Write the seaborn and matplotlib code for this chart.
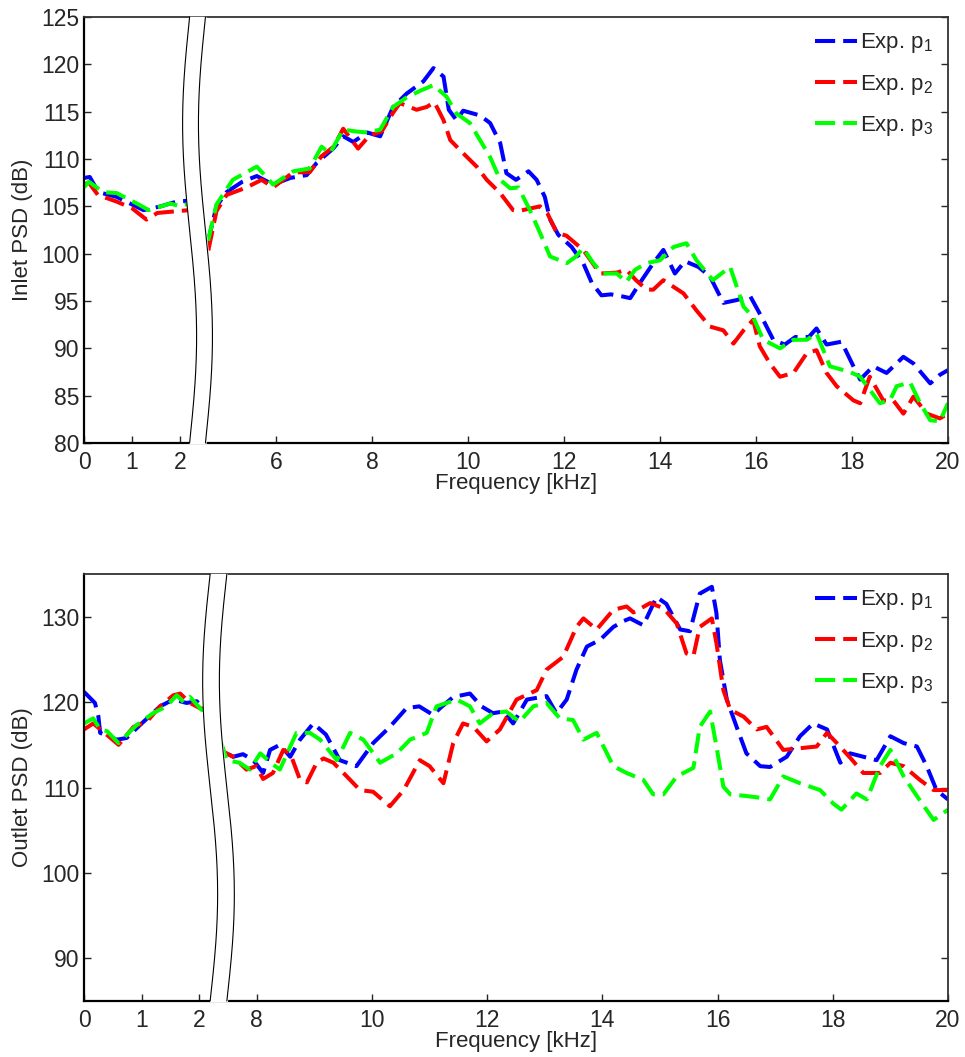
import numpy as np
import pandas as pd
import matplotlib
matplotlib.use("Agg")
import matplotlib.pyplot as plt
import seaborn as sns

# ---- data (frequency in kHz, PSD in dB) ----
inlet_f_p1 = [0, 0.12, 0.3, 0.68, 1.24, 1.6, 1.93, 2.2,
              4.56, 4.76, 4.97, 5.3, 5.6, 5.94, 6.3, 6.64, 6.85, 7.19, 7.4, 7.61, 7.9, 8.17, 8.44,
              8.72, 9.07, 9.28, 9.49, 9.6, 9.76, 9.9, 10.25, 10.46, 10.67, 10.8, 11.0, 11.26, 11.43,
              11.6, 11.71, 11.88, 12.16, 12.4, 12.58, 12.78, 12.98, 13.2, 13.38, 13.58, 13.86, 14.07,
              14.31, 14.52, 14.8, 15.04, 15.32, 15.6, 15.88, 16.15, 16.36, 16.6, 16.82, 17.1, 17.26,
              17.47, 17.78, 18.03, 18.17, 18.44, 18.72, 19.07, 19.28, 19.63, 19.83, 20]
inlet_db_p1 = [108.0, 108.1, 106.5, 106.0, 104.6, 105.0, 105.5, 105.6,
               100.8, 105.0, 106.5, 107.6, 108.2, 107.3, 108.0, 108.3, 109.6, 111.1, 112.4, 111.8,
               112.8, 112.4, 115.5, 116.9, 118.2, 119.6, 118.7, 115.2, 114.1, 115.1, 114.6, 113.8,
               111.7, 108.5, 107.8, 108.7, 107.8, 106.0, 103.6, 102.0, 100.7, 99.0, 96.9, 95.6, 95.7,
               95.5, 95.3, 96.9, 99.0, 100.4, 97.9, 99.2, 98.6, 97.6, 94.8, 95.1, 95.5, 93.0, 90.9,
               90.4, 91.2, 91.2, 92.1, 90.4, 90.7, 88.1, 86.7, 88.1, 87.4, 89.1, 88.4, 86.3, 87.2, 87.7]

inlet_f_p2 = [0, 0.1, 0.29, 0.68, 1.0, 1.3, 1.53, 1.96, 2.2,
              4.58, 4.76, 4.97, 5.39, 5.7, 5.94, 6.36, 6.7, 6.95, 7.2, 7.4, 7.71, 7.95, 8.2, 8.44,
              8.58, 8.93, 9.14, 9.3, 9.49, 9.63, 9.9, 10.18, 10.39, 10.67, 10.94, 11.05, 11.5, 11.65,
              11.85, 12.05, 12.4, 12.75, 13.1, 13.3, 13.5, 13.72, 13.86, 14.07, 14.28, 14.49, 14.76,
              15.04, 15.32, 15.53, 15.74, 15.94, 16.08, 16.29, 16.5, 16.78, 17.06, 17.26, 17.47,
              17.68, 18.03, 18.17, 18.37, 18.65, 18.86, 19.07, 19.28, 19.56, 19.83, 20]
inlet_db_p2 = [107.3, 107.5, 106.2, 105.5, 104.8, 103.6, 104.3, 104.5, 104.6,
               100.1, 104.5, 106.2, 107.0, 107.8, 107.0, 108.6, 108.6, 110.3, 111.3, 113.2, 111.1,
               112.5, 112.9, 114.9, 115.9, 115.2, 115.5, 116.0, 114.1, 112.0, 110.6, 109.2, 107.8,
               106.4, 104.6, 104.5, 105.0, 104.3, 102.2, 101.9, 100.4, 97.9, 98.0, 98.3, 97.2, 96.2,
               96.2, 97.2, 96.5, 95.8, 94.0, 92.3, 91.9, 90.5, 91.9, 93.0, 90.2, 88.4, 87.0, 87.4,
               89.5, 89.8, 87.4, 86.0, 84.5, 84.2, 87.0, 84.5, 84.5, 83.1, 84.9, 83.1, 82.6, 83.1]

inlet_f_p3 = [0, 0.1, 0.4, 0.68, 1.1, 1.35, 1.8, 2.0, 2.2,
              4.56, 4.76, 5.1, 5.6, 5.94, 6.36, 6.7, 6.95, 7.12, 7.4, 7.68, 7.9, 8.17, 8.44, 8.72,
              9.0, 9.28, 9.55, 9.76, 10.04, 10.25, 10.46, 10.67, 10.88, 11.05, 11.29, 11.5, 11.71,
              12.06, 12.25, 12.4, 12.61, 12.8, 13.1, 13.3, 13.48, 13.72, 14.0, 14.28, 14.55, 14.76,
              15.1, 15.46, 15.74, 15.94, 16.15, 16.5, 16.78, 17.06, 17.26, 17.54, 17.96, 18.17,
              18.58, 18.79, 18.93, 19.21, 19.42, 19.63, 19.83, 20]
inlet_db_p3 = [107.0, 107.6, 106.5, 106.4, 105.3, 104.6, 105.3, 105.0, 105.3,
               100.8, 105.2, 107.8, 109.2, 107.3, 108.7, 109.0, 111.3, 110.6, 113.1, 112.9, 112.8,
               113.1, 115.5, 116.5, 117.2, 117.8, 116.6, 114.8, 113.8, 112.0, 110.2, 107.8, 106.9,
               107.0, 104.6, 102.2, 99.7, 99.0, 99.7, 100.6, 99.0, 97.9, 97.9, 97.0, 98.3, 99.0,
               99.3, 100.7, 101.1, 99.3, 97.2, 98.6, 94.4, 93.3, 90.9, 90.0, 90.9, 90.9, 91.6, 88.1,
               87.5, 87.0, 84.2, 84.5, 86.0, 86.4, 84.2, 82.4, 82.3, 84.2]

outlet_f_p1 = [0, 0.19, 0.25, 0.28, 0.57, 0.74, 0.97, 1.32, 1.55, 1.67, 1.78, 1.96, 2.04, 2.2,
               7.42, 7.59, 7.76, 7.94, 8.11, 8.23, 8.4, 8.58, 8.75, 8.98, 9.2, 9.44, 9.73, 10.02,
               10.31, 10.6, 10.82, 11.06, 11.2, 11.41, 11.7, 11.9, 12.1, 12.28, 12.45, 12.69, 13.03,
               13.2, 13.38, 13.55, 13.73, 13.96, 14.19, 14.37, 14.48, 14.71, 14.94, 15.11, 15.35,
               15.52, 15.69, 15.9, 15.98, 16.04, 16.16, 16.33, 16.5, 16.74, 16.91, 17.2, 17.43,
               17.66, 17.9, 18.13, 18.3, 18.76, 19.0, 19.23, 19.46, 19.63, 19.8, 20]
outlet_db_p1 = [121.2, 119.9, 118.3, 116.4, 115.6, 115.8, 117.3, 119.5, 120.3, 120.1, 119.9,
                120.1, 119.3, 119.0,
                114.2, 113.6, 113.9, 113.2, 111.7, 114.4, 115.0, 113.6, 115.6, 117.5, 116.2, 113.2,
                112.5, 115.2, 117.1, 119.3, 119.5, 118.5, 119.4, 120.6, 121.0, 119.5, 118.7, 118.9,
                117.5, 120.3, 120.7, 118.7, 120.3, 123.8, 126.5, 127.3, 128.8, 129.5, 129.8, 129.0,
                132.3, 131.5, 128.5, 128.3, 132.7, 133.5, 130.4, 124.9, 120.3, 117.1, 114.0, 112.5,
                112.4, 113.6, 116.0, 117.5, 116.8, 112.9, 114.0, 113.2, 116.0, 115.2, 114.8, 112.5,
                109.7, 108.6]

outlet_f_p2 = [0, 0.16, 0.34, 0.6, 0.86, 1.09, 1.32, 1.55, 1.67, 1.84, 2.01, 2.2,
               7.42, 7.59, 7.82, 7.99, 8.11, 8.28, 8.46, 8.58, 8.75, 8.87, 9.04, 9.16, 9.33, 9.62,
               9.79, 10.02, 10.31, 10.55, 10.83, 11.0, 11.24, 11.41, 11.58, 11.76, 11.99, 12.22,
               12.51, 12.86, 13.03, 13.32, 13.55, 13.67, 13.9, 14.19, 14.42, 14.54, 14.83, 15.06,
               15.29, 15.46, 15.58, 15.69, 15.9, 15.98, 16.1, 16.22, 16.45, 16.68, 16.85, 17.14,
               17.43, 17.72, 17.9, 18.07, 18.3, 18.53, 18.82, 19.0, 19.23, 19.51, 19.75, 20]
outlet_db_p2 = [116.8, 117.5, 116.5, 115.0, 117.1, 117.7, 119.5, 120.8, 121.0, 119.9, 119.3, 119.0,
                114.2, 113.6, 112.1, 112.5, 111.0, 111.7, 114.4, 114.0, 110.9, 110.6, 112.9, 113.4,
                112.9, 110.9, 109.7, 109.5, 107.8, 109.7, 113.2, 112.5, 110.5, 115.2, 117.5, 117.1,
                115.4, 116.8, 120.3, 121.4, 123.8, 125.3, 128.8, 129.8, 128.5, 130.8, 131.2, 130.5,
                131.6, 131.0, 129.2, 125.7, 125.4, 128.8, 129.8, 126.9, 121.4, 119.1, 118.3, 116.8,
                117.1, 114.4, 114.6, 114.8, 116.4, 115.2, 113.5, 111.7, 111.7, 112.9, 112.5, 110.9,
                109.7, 109.7]

outlet_f_p3 = [0, 0.16, 0.28, 0.4, 0.6, 0.91, 1.2, 1.43, 1.61, 1.73, 1.84, 2.04, 2.2,
               7.48, 7.7, 7.88, 8.06, 8.28, 8.4, 8.58, 8.69, 8.92, 9.1, 9.39, 9.62, 9.85, 10.14,
               10.43, 10.66, 10.95, 11.12, 11.47, 11.7, 11.87, 12.1, 12.33, 12.56, 12.8, 13.03,
               13.26, 13.49, 13.67, 13.9, 14.19, 14.42, 14.71, 14.88, 15.06, 15.29, 15.58, 15.69,
               15.87, 15.98, 16.1, 16.22, 16.5, 16.74, 16.91, 17.14, 17.43, 17.78, 18.01, 18.15,
               18.41, 18.59, 18.82, 19.0, 19.23, 19.46, 19.75, 20]
outlet_db_p3 = [117.5, 118.1, 116.8, 116.6, 115.2, 117.3, 118.7, 119.5, 120.8, 120.0, 120.6,
                119.1, 119.0,
                113.2, 112.9, 112.1, 114.0, 112.7, 112.1, 114.8, 116.4, 116.4, 115.6, 113.2, 116.4,
                115.6, 112.9, 114.0, 115.6, 116.4, 119.5, 120.3, 119.5, 117.5, 118.7, 118.9, 117.7,
                119.5, 119.9, 118.1, 117.9, 115.6, 116.4, 112.5, 111.7, 110.9, 109.2, 109.2, 111.3,
                112.3, 117.1, 118.9, 114.8, 110.1, 109.2, 109.0, 108.8, 108.6, 111.3, 110.5, 109.7,
                108.1, 107.4, 109.3, 108.6, 112.5, 114.4, 111.3, 109.0, 106.2, 107.4]

probes = ['Exp. p$_1$', 'Exp. p$_2$', 'Exp. p$_3$']
colors = ['#0000ff', '#ff0000', '#00ff00']

inlet_ticks = [0, 1, 2, 6, 8, 10, 12, 14, 16, 18, 20]
outlet_ticks = [0, 1, 2, 8, 10, 12, 14, 16, 18, 20]
inlet_gap = 2     # kHz removed by the axis break
outlet_gap = 5


def to_axis(freq, gap):
    freq = np.asarray(freq, dtype=float)
    return np.where(freq < 3, freq, freq - gap)


def make_df(freqs, dbs, gap):
    parts = []
    for name, f, d in zip(probes, freqs, dbs):
        parts.append(pd.DataFrame({'u': to_axis(f, gap), 'psd': d, 'probe': name}))
    return pd.concat(parts, ignore_index=True)


inlet = make_df([inlet_f_p1, inlet_f_p2, inlet_f_p3],
                [inlet_db_p1, inlet_db_p2, inlet_db_p3], inlet_gap)
outlet = make_df([outlet_f_p1, outlet_f_p2, outlet_f_p3],
                 [outlet_db_p1, outlet_db_p2, outlet_db_p3], outlet_gap)

sns.set_style("ticks")
plt.rcParams['font.family'] = ['Liberation Sans', 'DejaVu Sans']
plt.rcParams['mathtext.fontset'] = 'custom'
plt.rcParams['mathtext.rm'] = 'Liberation Sans'
plt.rcParams['mathtext.it'] = 'Liberation Sans:italic'
plt.rcParams['mathtext.default'] = 'regular'

fig = plt.figure(figsize=(9.65, 10.57), dpi=100)
ax1 = fig.add_axes([0.08705, 0.58089, 0.89534, 0.40303])
ax2 = fig.add_axes([0.08705, 0.05298, 0.89534, 0.40397])


def draw_break(ax, x0, width, amp):
    t = np.linspace(0, 1, 200)
    y = 1 - t
    xl = x0 - amp * np.sin(2 * np.pi * t)
    xr = xl + width
    tr = ax.get_xaxis_transform()
    ax.fill_betweenx(y, xl, xr, color='white', transform=tr, zorder=5, clip_on=False)
    ax.plot(xl, y, color='black', lw=0.8, transform=tr, zorder=6, clip_on=False)
    ax.plot(xr, y, color='black', lw=0.8, transform=tr, zorder=6, clip_on=False)


def style_axes(ax, df, ticks, gap, ylim, yticks, ylabel, brk):
    sns.lineplot(data=df, x='u', y='psd', hue='probe', palette=colors, sort=False,
                 estimator=None, lw=2.9, linestyle=(0, (5, 2)), legend=False, ax=ax)
    ax.set_xlim(0, 20 - gap)
    ax.set_ylim(*ylim)
    ax.set_xticks(to_axis(ticks, gap))
    ax.set_xticklabels([str(t) for t in ticks])
    ax.set_yticks(yticks)
    ax.tick_params(axis='both', direction='in', length=5, width=1, labelsize=16.5,
                   right=True, top=False, pad=3)
    ax.tick_params(axis='x', pad=6)
    ax.set_xlabel('Frequency [kHz]', fontsize=16, labelpad=-1)
    ax.set_ylabel(ylabel, fontsize=16, labelpad=6)
    for side in ['left', 'bottom']:
        ax.spines[side].set_linewidth(1.6)
        ax.spines[side].set_color('black')
    for side in ['top', 'right']:
        ax.spines[side].set_linewidth(1.3)
        ax.spines[side].set_color('#333333')
    draw_break(ax, *brk)
    ax.legend(handles=ax.lines[:3], labels=probes, loc='upper right', frameon=False,
              fontsize=16, handlelength=1.9, handletextpad=0.15, labelspacing=0.78,
              borderaxespad=0.3, borderpad=0.35)


style_axes(ax1, inlet, inlet_ticks, inlet_gap, (80, 125), np.arange(80, 126, 5),
           'Inlet PSD (dB)', (2.2, 0.33, 0.146))
style_axes(ax2, outlet, outlet_ticks, outlet_gap, (85, 135), np.arange(90, 131, 10),
           'Outlet PSD (dB)', (2.19, 0.29, 0.13))

fig.savefig('out.png', dpi=100)
